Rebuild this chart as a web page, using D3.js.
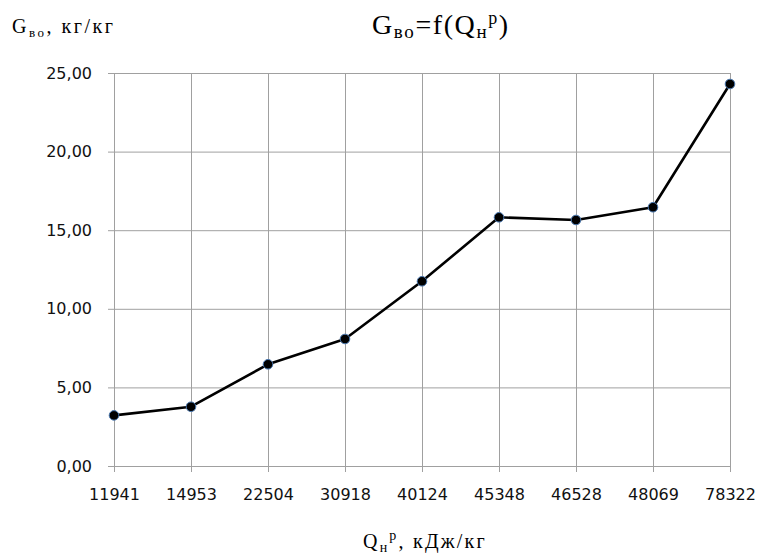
<!DOCTYPE html>
<html>
<head>
<meta charset="utf-8">
<script src="https://cdn.jsdelivr.net/npm/d3@7"></script>
<style>
  body { margin: 0; background: #fff; }
  .grid line { stroke: #a0a0a0; stroke-width: 1; }
  .grid path { display: none; }
  .axis line, .axis path { stroke: #a0a0a0; stroke-width: 1; }
</style>
</head>
<body>
<svg id="canvas" width="760" height="560"></svg>
<script>
// heat value categories (kJ/kg) and air volume values (kg/kg)
let categories = ['11941', '14953', '22504', '30918', '40124', '45348', '46528', '48069', '78322']
let values = [3.22, 3.77, 6.47, 8.08, 11.75, 15.82, 15.65, 16.46, 24.30]
let yTicks = [0, 5, 10, 15, 20, 25]

let canvas = d3.select('#canvas')

let plotLeft = 114, plotRight = 730, plotTop = 73, plotBottom = 466

let xScale = d3.scalePoint()
               .domain(categories)
               .range([plotLeft, plotRight])

let yScale = d3.scaleLinear()
               .domain([0, 25])
               .range([plotBottom, plotTop])

let fmt = d3.formatLocale({decimal: ',', thousands: ' ', grouping: [3], currency: ['', '']}).format('.2f')

// grid lines
canvas.append('g')
      .attr('class', 'grid')
      .attr('transform', 'translate(' + plotLeft + ',0)')
      .call(d3.axisLeft(yScale).tickValues(yTicks).tickSize(-(plotRight - plotLeft)).tickFormat(''))

canvas.append('g')
      .attr('class', 'grid')
      .attr('transform', 'translate(0,' + plotBottom + ')')
      .call(d3.axisBottom(xScale).tickSize(-(plotBottom - plotTop)).tickFormat(''))

// axes with labels
let yAxis = canvas.append('g')
      .attr('class', 'axis')
      .attr('transform', 'translate(' + plotLeft + ',0)')
      .call(d3.axisLeft(yScale).tickValues(yTicks).tickSize(6).tickSizeOuter(0).tickPadding(16).tickFormat(fmt))

let xAxis = canvas.append('g')
      .attr('class', 'axis')
      .attr('transform', 'translate(0,' + plotBottom + ')')
      .call(d3.axisBottom(xScale).tickSize(6).tickSizeOuter(0).tickPadding(17))

canvas.selectAll('.axis text')
      .attr('font-family', '"DejaVu Sans", sans-serif')
      .attr('font-size', 16)
      .attr('fill', '#111')

// line
let line = d3.line()
             .x((d, i) => xScale(categories[i]))
             .y((d) => yScale(d))

canvas.append('path')
      .datum(values)
      .attr('d', line)
      .attr('fill', 'none')
      .attr('stroke', '#000')
      .attr('stroke-width', 2.6)
      .attr('stroke-linejoin', 'round')

canvas.selectAll('circle')
      .data(values)
      .enter()
      .append('circle')
      .attr('cx', (d, i) => xScale(categories[i]))
      .attr('cy', (d) => yScale(d))
      .attr('r', 4.8)
      .attr('fill', '#000')
      .attr('stroke', '#4a78b0')
      .attr('stroke-width', 1)

// titles
let serif = '"Liberation Serif", "Times New Roman", serif'

let title = canvas.append('text')
      .attr('x', 372)
      .attr('y', 34)
      .style('font-family', serif)
      .style('font-size', '28px')
      .style('letter-spacing', '1.6px')
      .attr('fill', '#000')
title.append('tspan').text('G')
title.append('tspan').attr('dy', 4).style('font-size', '19px').text('во')
title.append('tspan').attr('dy', -4).text('=f(Q')
title.append('tspan').attr('dy', 4).style('font-size', '19px').text('н')
title.append('tspan').attr('dy', -14).style('font-size', '18px').text('р')
title.append('tspan').attr('dy', 10).text(')')

let yTitle = canvas.append('text')
      .attr('x', 12)
      .attr('y', 33)
      .style('font-family', serif)
      .style('font-size', '20px')
      .style('letter-spacing', '2.5px')
      .attr('fill', '#000')
yTitle.append('tspan').text('G')
yTitle.append('tspan').attr('dy', 4).style('font-size', '13px').text('во')
yTitle.append('tspan').attr('dy', -4).text(', кг/кг')

let xTitle = canvas.append('text')
      .attr('x', 363)
      .attr('y', 548)
      .style('font-family', serif)
      .style('font-size', '20px')
      .style('letter-spacing', '2.2px')
      .attr('fill', '#000')
xTitle.append('tspan').text('Q')
xTitle.append('tspan').attr('dy', 4).style('font-size', '14px').text('н')
xTitle.append('tspan').attr('dy', -12).style('font-size', '14px').text('р')
xTitle.append('tspan').attr('dy', 8).text(', кДж/кг')
</script>
</body>
</html>
